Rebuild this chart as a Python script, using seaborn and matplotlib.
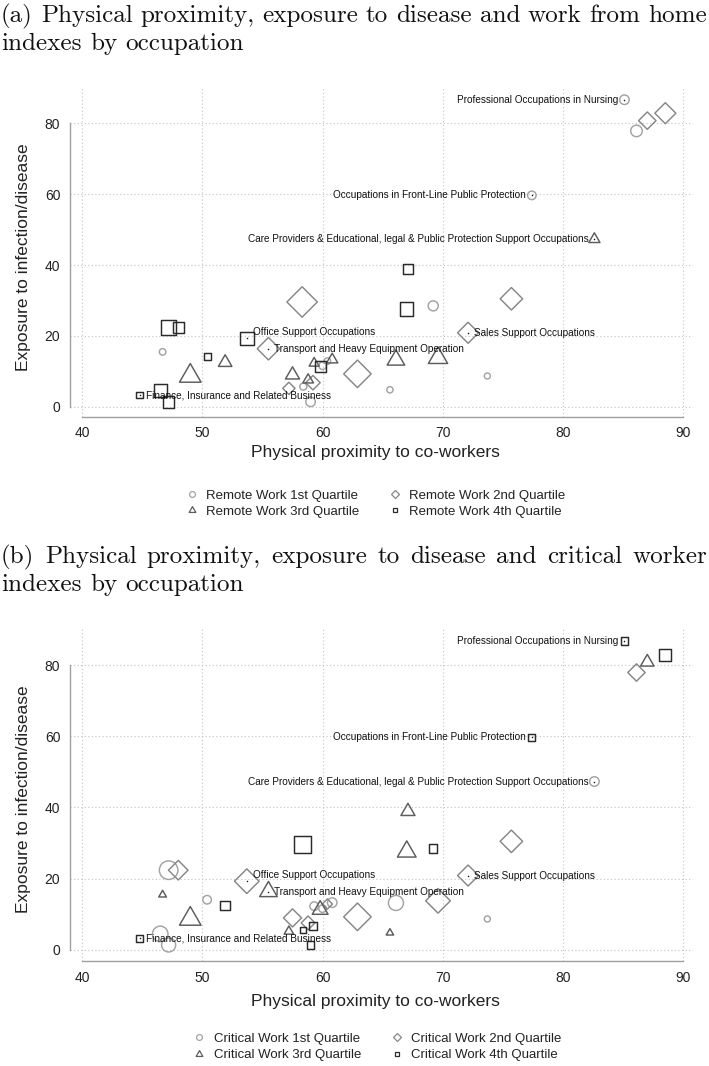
import numpy as np
import pandas as pd
import matplotlib
matplotlib.use("Agg")
import matplotlib.pyplot as plt
import seaborn as sns
from matplotlib.lines import Line2D
from matplotlib.path import Path

# ---------------- data ----------------
proximity = [85.1, 86.1, 87.0, 88.5, 77.4, 82.6, 67.1, 67.0, 69.2, 75.7,
             72.1, 58.3, 47.2, 48.0, 53.7, 55.5, 46.7, 50.4, 51.9, 49.0,
             57.5, 58.8, 57.2, 58.4, 59.2, 59.0, 59.8, 59.3, 60.0, 60.8,
             60.4, 62.9, 65.6, 66.1, 69.6, 73.7, 44.8, 46.5, 47.2]
exposure = [86.7, 77.9, 80.8, 82.9, 59.7, 47.3, 38.9, 27.6, 28.5, 30.5,
            20.9, 29.6, 22.4, 22.4, 19.3, 16.4, 15.5, 14.1, 12.5, 8.7,
            9.0, 7.6, 5.2, 5.7, 6.8, 1.4, 11.3, 12.3, 11.6, 13.3,
            12.9, 9.3, 4.8, 13.2, 13.8, 8.7, 3.3, 4.5, 1.4]
weight = [11, 13, 13, 15.5, 10, 11, 13.5, 17.5, 11.5, 16.5,
          15.5, 22, 20, 14.5, 18, 16.5, 8, 10, 13, 20,
          13.5, 10.5, 9.5, 8.5, 11, 11, 15, 10, 9, 11,
          8, 20, 7.7, 16.5, 18, 7.5, 9.5, 17, 15.5]
remote_quartile = [1, 1, 2, 2, 1, 3, 4, 4, 1, 2,
                   2, 2, 4, 4, 4, 2, 1, 4, 3, 3,
                   3, 3, 2, 1, 2, 1, 4, 3, 1, 3,
                   1, 2, 1, 3, 3, 1, 4, 4, 4]
critical_quartile = [4, 2, 3, 4, 4, 1, 3, 3, 4, 2,
                     2, 4, 1, 2, 2, 3, 3, 1, 4, 3,
                     2, 2, 3, 4, 4, 4, 3, 1, 1, 1,
                     2, 2, 3, 1, 2, 1, 4, 1, 1]
occupation_label = ["Professional Occupations in Nursing", "", "", "",
                    "Occupations in Front-Line Public Protection",
                    "Care Providers & Educational, legal & Public Protection Support Occupations",
                    "", "", "", "",
                    "Sales Support Occupations", "", "", "",
                    "Office Support Occupations",
                    "Transport and Heavy Equipment Operation",
                    "", "", "", "", "", "", "", "", "", "", "", "", "", "",
                    "", "", "", "", "", "",
                    "Finance, Insurance and Related Business", "", ""]
labels_left = ["Professional Occupations in Nursing",
               "Occupations in Front-Line Public Protection",
               "Care Providers & Educational, legal & Public Protection Support Occupations"]
x_ticks = [40, 50, 60, 70, 80, 90]
y_ticks = [0, 20, 40, 60, 80]
quartile_names = ["1st", "2nd", "3rd", "4th"]

title_a = ["(a) Physical proximity, exposure to disease and work from home",
           "indexes by occupation"]
title_b = ["(b) Physical proximity, exposure to disease and critical worker",
           "indexes by occupation"]

# ---------------- style ----------------
W, H = 709, 1066
DPI = 100
sns.set_style("white")
plt.rcParams['font.family'] = ['Liberation Sans', 'DejaVu Sans']

TRI = Path([(-0.5, -0.289), (0.5, -0.289), (0.0, 0.577), (-0.5, -0.289)],
           [Path.MOVETO, Path.LINETO, Path.LINETO, Path.CLOSEPOLY])
MARK = {1: 'o', 2: 'D', 3: TRI, 4: 's'}
COL = {1: '#a3a3a3', 2: '#878787', 3: '#5c5c5c', 4: '#2a2a2a'}
FACTOR = {1: 1.0, 2: 1.45, 3: 1.15, 4: 0.85}     # outer size relative to circle
NORM = {1: 1.0, 2: 1.414, 3: 0.866, 4: 1.0}      # path size per markersize
LW_PT = 1.05
PX_PER_PT = DPI / 72.0

fig = plt.figure(figsize=(W / DPI, H / DPI), dpi=DPI)
fig.patch.set_facecolor('white')


def px_axes(top, bottom, left=70, right=693):
    return [left / W, (H - bottom) / H, (right - left) / W, (bottom - top) / H]


df = pd.DataFrame({"proximity": proximity, "exposure": exposure,
                   "weight": weight, "remote": remote_quartile,
                   "critical": critical_quartile, "label": occupation_label})


def draw_panel(ax, qcol, ylim, xlab_y):
    for q in [1, 2, 3, 4]:
        sub = df[df[qcol] == q]
        lw_px = LW_PT * PX_PER_PT
        m_pt = (FACTOR[q] * sub["weight"].to_numpy() - lw_px) / NORM[q] / PX_PER_PT
        sns.scatterplot(data=sub, x="proximity", y="exposure", ax=ax,
                        marker=MARK[q], s=m_pt ** 2, color=COL[q],
                        edgecolor=COL[q], facecolor='none',
                        linewidth=LW_PT, legend=False, zorder=3)
    lab = df[df["label"] != ""]
    sns.scatterplot(data=lab, x="proximity", y="exposure", ax=ax,
                    marker='o', s=1.2, color='#111111', edgecolor='#111111',
                    linewidth=0, legend=False, zorder=4)
    for _, r in lab.iterrows():
        if r["label"] in labels_left:
            ax.annotate(r["label"], (r["proximity"], r["exposure"]),
                        xytext=(-4.2, 0), textcoords='offset points',
                        ha='right', va='center', fontsize=7.2,
                        color='#111111', zorder=5)
        else:
            dy = 4.3 if r["label"].startswith("Office") else 0
            ax.annotate(r["label"], (r["proximity"], r["exposure"]),
                        xytext=(4.2, dy), textcoords='offset points',
                        ha='left', va='center', fontsize=7.2,
                        color='#111111', zorder=5)

    ax.set_xlim(39.0, 90.8)
    ax.set_ylim(*ylim)
    ax.set_xticks(x_ticks)
    ax.set_yticks(y_ticks)
    for s in ['top', 'right']:
        ax.spines[s].set_visible(False)
    ax.spines['left'].set_bounds(0, 80)
    ax.spines['bottom'].set_bounds(40, 90)
    for s in ['left', 'bottom']:
        ax.spines[s].set_color('#a0a0a0')
        ax.spines[s].set_linewidth(1.0)
    ax.tick_params(direction='out', length=4.5, width=1.0, color='#a0a0a0',
                   labelsize=10, labelcolor='#222222', pad=2.5)
    ax.grid(True, linestyle=(0, (1, 2.2)), color='#c4c4c4', linewidth=0.8)
    ax.set_axisbelow(True)
    ax.set_xlabel("Physical proximity to co-workers", fontsize=12.5, color='#222222')
    ax.set_ylabel("Exposure to infection/disease", fontsize=12.5, color='#222222')
    ax.xaxis.set_label_coords(0.49, xlab_y)
    ax.xaxis.label.set_verticalalignment('center')
    ax.yaxis.set_label_coords(-0.0754, 0.485)
    ax.yaxis.label.set_verticalalignment('center')
    ax.set_facecolor('white')


ax_a = fig.add_axes(px_axes(87, 416.7))
draw_panel(ax_a, "remote", (-2.8, 90.3), -0.110)
ax_b = fig.add_axes(px_axes(628, 961))
draw_panel(ax_b, "critical", (-3.1, 90.4), -0.122)


def legend(prefix, center_y, center_x):
    hs = {}
    for q in [1, 2, 3, 4]:
        hs[q] = Line2D([], [], linestyle='none', marker=MARK[q],
                       markersize=4.2 * FACTOR[q] / NORM[q],
                       markerfacecolor='none', markeredgecolor=COL[q],
                       markeredgewidth=0.9)
    order = [1, 3, 2, 4]
    fig.legend([hs[q] for q in order],
               [f"{prefix} {quartile_names[q - 1]} Quartile" for q in order],
               ncol=2, loc='center', bbox_to_anchor=(center_x / W, 1 - center_y / H),
               frameon=False, fontsize=9.5, handlelength=0.8, handletextpad=0.7,
               columnspacing=2.3, labelspacing=0.3, labelcolor='#222222')


legend("Remote Work", 503.5, 376)
legend("Critical Work", 1047, 378)

# ---------------- justified serif titles ----------------
renderer = fig.canvas.get_renderer()
TITLE_FAMILY = ['cmr10', 'DejaVu Serif']
X0, X1 = 1.0, 707.0


def words_width(line, size):
    tot = 0.0
    for w in line.split(' '):
        t = fig.text(0, 0, w, fontsize=size, family=TITLE_FAMILY)
        tot += t.get_window_extent(renderer).width
        t.remove()
    return tot


# font size chosen so that the first line fits the width with natural spacing
probe = 17.0
ww = words_width(title_a[0], probe)
nsp = len(title_a[0].split(' ')) - 1
TS = probe * (X1 - X0) / (ww + nsp * 0.333 * probe * PX_PER_PT) * 1.005


def draw_title(lines, baselines):
    for li, (line, yb) in enumerate(zip(lines, baselines)):
        words = line.split(' ')
        texts = [fig.text(0, 1 - yb / H, w, fontsize=TS, family=TITLE_FAMILY,
                          va='baseline', ha='left', color='#111111') for w in words]
        widths = [t.get_window_extent(renderer).width for t in texts]
        if li == 0:
            gap = (X1 - X0 - sum(widths)) / (len(words) - 1)
        else:
            gap = 0.333 * TS * PX_PER_PT
        x = X0
        for t, w in zip(texts, widths):
            t.set_x(x / W)
            x += w + gap


draw_title(title_a, [22, 50])
draw_title(title_b, [563, 591])

fig.savefig("out.png", dpi=DPI, facecolor='white')
